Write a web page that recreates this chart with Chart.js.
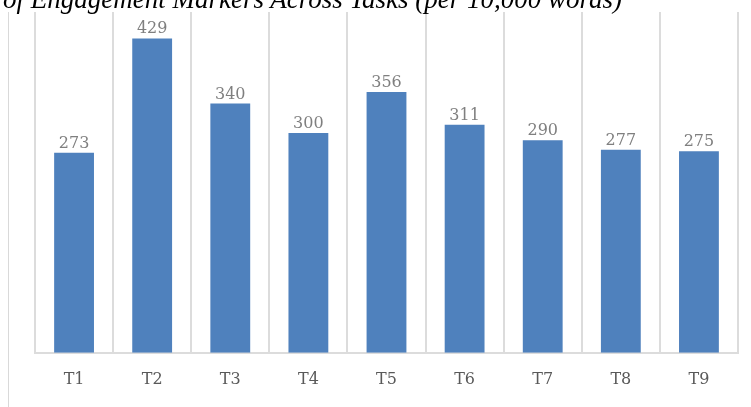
<!DOCTYPE html>
<html>
<head>
<meta charset="utf-8">
<script src="https://cdn.jsdelivr.net/npm/chart.js@4"></script>
<style>
  html, body { margin: 0; padding: 0; background: #fff; }
  #wrap { position: relative; width: 751px; height: 407px; overflow: hidden; }
  #title {
    position: absolute; left: 3px; top: -15px; white-space: nowrap;
    font: italic 27px "Liberation Serif", "Times New Roman", serif; color: #000;
    line-height: 28px; z-index: 2;
  }
  #frame { position: absolute; left: 8px; top: 12px; height: 400px; border-left: 1px solid #d9d9d9; }
  canvas { position: absolute; left: 0; top: 0; }
</style>
</head>
<body>
<div id="wrap">
  <div id="title">of Engagement Markers Across Tasks (per 10,000 words)</div>
  <div id="frame"></div>
  <canvas id="myChart" width="751" height="407"></canvas>
</div>
<script>
// ***** datos *****
const tasks = ["T1", "T2", "T3", "T4", "T5", "T6", "T7", "T8", "T9"]
const markers = [273, 429, 340, 300, 356, 311, 290, 277, 275]
const yMax = 465

const barBlue = "#4f81bd"
const gridGray = "#dcdcdc"

// valores encima de cada barra
const valueLabels = {
  id: "valueLabels",
  afterDatasetsDraw(chart) {
    const { ctx } = chart
    const meta = chart.getDatasetMeta(0)
    ctx.save()
    ctx.font = "16px 'DejaVu Serif'"
    ctx.fillStyle = "#7f7f7f"
    ctx.textAlign = "center"
    ctx.textBaseline = "alphabetic"
    meta.data.forEach((bar, i) => {
      ctx.fillText(String(markers[i]), bar.x, bar.y - 5)
    })
    ctx.restore()
  }
}

const ctx = document.getElementById("myChart").getContext("2d")
const myChart = new Chart(ctx, {
  type: "bar",
  data: {
    labels: tasks,
    datasets: [{
      data: markers,
      backgroundColor: barBlue,
      borderWidth: 0,
      categoryPercentage: 1,
      barPercentage: 0.51
    }]
  },
  options: {
    responsive: false,
    animation: false,
    layout: { padding: { left: 35, right: 13, top: 12, bottom: 1 } },
    plugins: {
      legend: { display: false },
      tooltip: { enabled: false }
    },
    scales: {
      x: {
        offset: true,
        grid: {
          offset: true,
          drawTicks: false,
          color: c => (c.index === tasks.length ? "transparent" : gridGray),
          lineWidth: 2
        },
        border: { color: gridGray, width: 2 },
        ticks: {
          padding: 17,
          color: "#595959",
          font: { family: "DejaVu Serif", size: 16 }
        }
      },
      y: {
        display: false,
        min: 0,
        max: yMax
      }
    }
  },
  plugins: [valueLabels]
})
</script>
</body>
</html>
